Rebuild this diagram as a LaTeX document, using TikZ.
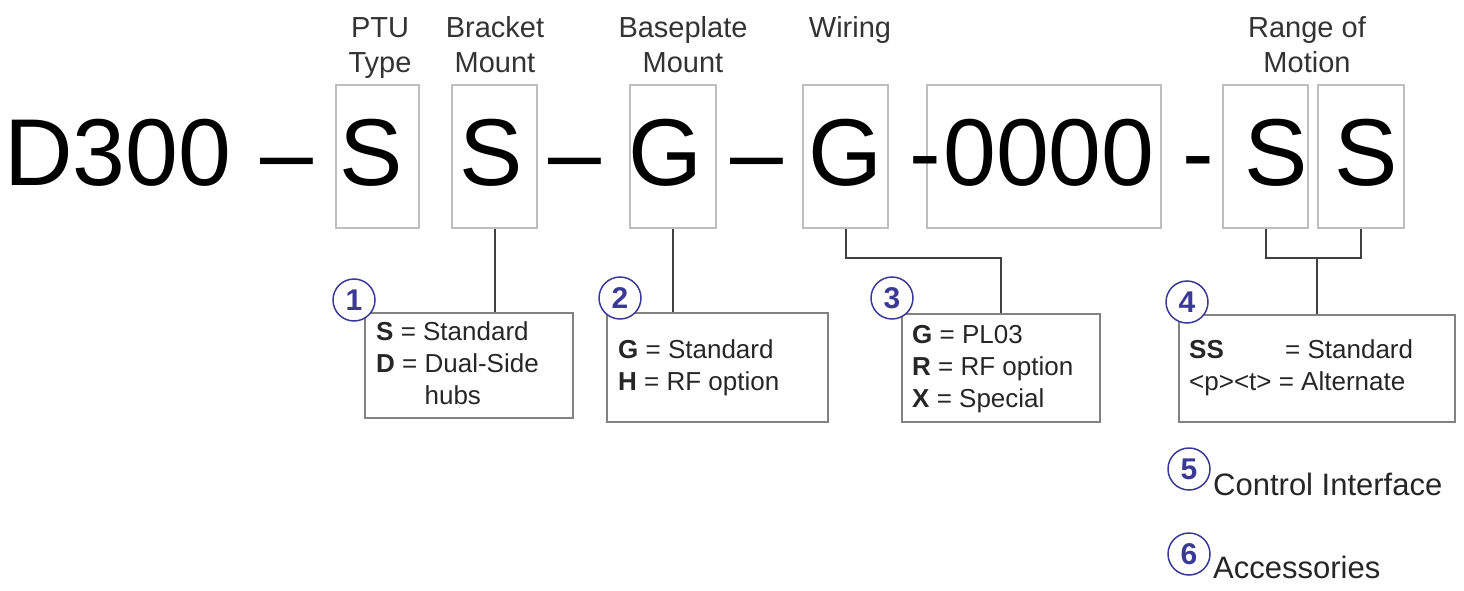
\documentclass[tikz,border=0pt]{standalone}
\usepackage{fontspec}
\setmainfont{Liberation Sans}
\usetikzlibrary{positioning}

\definecolor{numblue}{RGB}{58,58,150}
\definecolor{slotgray}{RGB}{190,190,190}
\definecolor{boxgray}{RGB}{130,130,130}

\tikzset{
	slot/.style={draw=slotgray, line width=1.5pt, minimum width=85pt, minimum height=143pt, inner sep=0pt},
	code/.style={anchor=base west, inner sep=0pt, font=\fontsize{95}{100}\selectfont},
	head/.style={anchor=base, align=center, inner sep=0pt, text=black!80, font=\fontsize{29}{35}\selectfont},
	optbox/.style={draw=boxgray, line width=1.5pt, inner sep=0pt},
	opttext/.style={anchor=base west, align=left, inner sep=0pt, text=black!85, font=\fontsize{26}{32}\selectfont},
	num/.style={circle, draw=numblue, fill=white, line width=1.5pt, minimum size=42pt, inner sep=0pt, text=numblue, font=\fontsize{30}{30}\selectfont\bfseries},
	link/.style={draw=black!75, line width=2pt},
}

\begin{document}
\begin{tikzpicture}[x=1pt, y=-1pt]
	\useasboundingbox (0,0) rectangle (1464,591);
	
	% slots of the part number
	\node[slot, minimum width=83pt] (bS1) at (377.5,156.5) {};
	\node[slot] (bS2) at (494.5,156.5) {};
	\node[slot, minimum width=86pt] (bG1) at (673,156.5) {};
	\node[slot] (bG2) at (845.5,156.5) {};
	\node[slot, minimum width=234pt] (bNum) at (1044,156.5) {};
	\node[slot] (bS3) at (1265.5,156.5) {};
	\node[slot, minimum width=86pt] (bS4) at (1361,156.5) {};
	
	% the part number itself
	\foreach \x/\c [count=\i] in {4/D300, 260/\textendash, 339/S, 459/S, 548/\textendash, 628/G, 730/\textendash, 808/G, 909/-, 943/0000, 1182/-, 1244/S, 1334/S}
		\node[code] (code\i) at (\x,185) {\c};
	
	% headings (base = last line)
	\node[head] (hPTU) at (380,73) {PTU\\Type};
	\node[head] (hBracket) at (495,73) {Bracket\\Mount};
	\node[head] (hBase) at (683,73) {Baseplate\\Mount};
	\node[head] (hWiring) at (850,38) {Wiring};
	\node[head] (hRange) at (1307,73) {Range of\\Motion};
	
	% option boxes
	\node[optbox, minimum width=208pt, minimum height=105pt] (o1) at (469,365.5) {};
	\node[optbox, minimum width=221pt, minimum height=109pt] (o2) at (717.5,367.5) {};
	\node[optbox, minimum width=198pt, minimum height=108pt] (o3) at (1001,368) {};
	\node[optbox, minimum width=276pt, minimum height=107pt] (o4) at (1317,368.5) {};
	
	\node[opttext] (t1) at (376,404) {\textbf{S} = Standard\\\textbf{D} = Dual-Side\\\phantom{\textbf{D} = }hubs};
	\node[opttext] (t2) at (618,390) {\textbf{G} = Standard\\\textbf{H} = RF option};
	\node[opttext] (t3) at (912,407) {\textbf{G} = PL03\\\textbf{R} = RF option\\\textbf{X} = Special};
	\node[opttext] (t4) at (1189,390) {\makebox[96pt][l]{\textbf{SS}}= Standard\\<p><t> = Alternate};
	
	% connectors
	\draw[link] (bS2.south) -- (bS2.south |- o1.north);
	\draw[link] (bG1.south) -- (bG1.south |- o2.north);
	\draw[link] (bG2.south) |- (o3.north |- 0,258) -- (o3.north);
	\draw[link] (bS3.south) |- (bS4.south |- 0,258) -- (bS4.south);
	\draw[link] (o4.north) -- (o4.north |- 0,258);
	
	% numbered circles
	\node[num] (n1) at (354,300) {1};
	\node[num] (n2) at (620,298) {2};
	\node[num] (n3) at (892,298) {3};
	\node[num] (n4) at (1187,302) {4};
	\node[num] (n5) at (1189,469) {5};
	\node[num] (n6) at (1189,554) {6};
	
	\node[anchor=base west, inner sep=0pt, text=black!85, font=\fontsize{31}{31}\selectfont] (lCtrl) at (1213,495) {Control Interface};
	\node[anchor=base west, inner sep=0pt, text=black!85, font=\fontsize{31}{31}\selectfont] (lAcc) at (1213,578) {Accessories};
\end{tikzpicture}
\end{document}
